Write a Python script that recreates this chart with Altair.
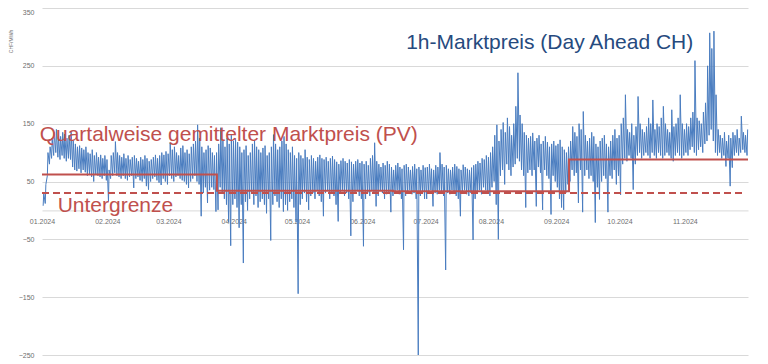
import altair as alt
import pandas as pd
from datetime import datetime, timedelta

# Daily high / low of the hourly day-ahead price (CHF/MWh)
hi_jan = [30, 45, 100, 110, 125, 135, 140, 130, 128, 135, 132, 125, 130, 137, 120, 115, 110, 112, 108, 105, 110, 100, 98, 105, 95, 100, 92, 96, 90, 95, 88]
lo_jan = [8, 12, 60, 80, 90, 95, 100, 92, 88, 95, 90, 85, 90, 88, 75, 70, 68, 72, 65, 70, 66, 60, 62, 58, 50, 62, 60, 58, 55, 60, 52]
hi_feb = [70, 95, 100, 119, 100, 95, 92, 98, 90, 95, 88, 92, 95, 90, 85, 92, 88, 95, 90, 85, 88, 92, 96, 90, 95, 100, 96, 102, 98]
lo_feb = [15, 55, 60, 65, 60, 58, 55, 60, 55, 52, 58, 60, 39, 55, 58, 52, 50, 55, 42, 36, 50, 55, 58, 52, 48, 44, 55, 50, 45]
hi_mar = [117, 105, 110, 100, 95, 108, 112, 100, 105, 98, 110, 115, 120, 148, 125, 110, 100, 105, 112, 108, 100, 95, 100, 115, 143, 120, 110, 125, 115, 130, 120]
lo_mar = [60, 55, 50, 58, 60, 55, 52, 50, 45, 39, 50, 55, 60, 50, 45, -10, 30, 40, 13, 35, 40, 36, -2, 1, 40, 30, 20, 10, -20, -61, 10]
hi_apr = [125, 118, 110, 100, 105, 112, 95, 100, 115, 122, 110, 105, 100, 108, 112, 95, 100, 110, 131, 115, 105, 110, 120, 128, 115, 105, 100, 110, 95, 90]
lo_apr = [20, 5, -30, 10, -91, 15, 0, 20, 30, 10, 25, 5, 15, 20, 10, -5, 20, -52, 10, 25, 15, 5, 20, -2, 10, 0, 15, 20, 5, -20]
hi_may = [100, 95, 90, 105, 92, 88, 95, 90, 85, 92, 96, 90, 88, 92, 85, 90, 94, 88, 84, 80, 86, 90, 85, 82, 88, 84, 80, 85, 88, 82, 85]
lo_may = [-144, 10, 20, 30, 15, 1, 25, 30, 20, 35, 25, 15, -10, 30, 35, 20, 30, 25, 10, -19, 30, 35, 25, 30, 20, -44, 15, 30, 35, 25, 20]
hi_jun = [80, 85, 78, 90, 95, 117, 85, 80, 75, 82, 78, 85, 80, 75, 70, 78, 82, 75, 72, 78, 80, 75, 70, 76, 80, 72, 75, 70, 78, 74]
lo_jun = [-62, 20, 30, 25, 35, 30, 7, 25, 35, 30, 20, 28, 30, -3, 25, 30, 35, 28, 20, -68, 25, 30, 35, 28, 30, 20, -250, 25, 30, 20]
hi_jul = [75, 80, 72, 70, 78, 75, 100, 80, 75, 78, 72, 70, 75, 80, 76, 72, 70, 79, 75, 72, 70, 74, 78, 80, 85, 82, 90, 88, 95, 92, 100]
lo_jul = [20, 30, 35, 7, 30, 28, 35, 30, 25, -103, 30, 28, 35, 30, 25, 20, -10, 30, 35, 28, 25, 30, -51, 20, 30, 35, 28, 40, 35, 30, 25]
hi_aug = [110, 130, 148, 120, 140, 152, 135, 160, 145, 130, 150, 180, 238, 165, 150, 135, 130, 125, 128, 134, 120, 125, 130, 115, 120, 128, 118, 110, 115, 120, 112]
lo_aug = [40, 50, 10, -50, 60, 70, 45, 80, 70, 60, 75, 80, 90, 85, 70, 60, 5, 65, 70, 60, 70, 7, 75, 65, 1, 70, 60, 55, -7, 60, 50]
hi_sep = [115, 122, 110, 105, 100, 110, 120, 145, 135, 128, 150, 140, 171, 130, 120, 125, 135, 128, 115, 110, 120, 125, 130, 115, 110, 120, 130, 140, 125, 130]
lo_sep = [40, 20, 5, 1, 30, 45, 50, 70, 60, 65, 13, 70, -3, 60, 70, 55, 60, 50, -21, 40, 19, 50, 60, 55, -3, 60, 55, 70, 45, 60]
hi_oct = [150, 160, 200, 140, 135, 150, 130, 145, 197, 150, 140, 135, 145, 160, 150, 191, 140, 150, 145, 160, 180, 150, 140, 135, 174, 145, 150, 160, 200, 150, 140]
lo_oct = [27, 80, 90, 85, 95, 90, 36, 80, 95, 100, 90, 95, 100, 95, 90, 100, 95, 90, 100, 95, 90, 95, 100, 95, 90, 85, 95, 100, 95, 90, 95]
hi_nov = [150, 145, 160, 170, 259, 160, 155, 150, 170, 186, 250, 307, 280, 310, 200, 140, 130, 125, 135, 120, 130, 125, 135, 130, 140, 125, 163, 135, 130, 140]
lo_nov = [100, 95, 105, 110, 100, 95, 105, 110, 100, 115, 120, 130, 140, 120, 100, 95, 100, 90, 95, 76, 90, 42, 74, 95, 100, 95, 100, 105, 100, 95]

# Quarterly averaged market price (step line) and lower limit
q_dates = ["2024-01-01T00:00:00", "2024-03-24T00:00:00", "2024-06-15T14:00:00", "2024-09-07T02:00:00", "2024-12-01T00:00:00"]
q_vals = [62, 34, 33, 88, 88]
floor_dates = ["2024-01-01T00:00:00", "2024-11-28T12:00:00"]
floor_vals = [30, 30]

# Annotations
label_text = ["1h-Marktpreis (Day Ahead CH)", "Quartalweise gemittelter Marktpreis (PV)", "Untergrenze"]
label_t = ["2024-06-21T19:00:00", "2023-12-30T21:00:00", "2024-01-08T10:00:00"]
label_p = [279, 119.4, -3.5]
label_color = ["#264A7E", "#C0504D", "#C0504D"]

y_ticks = [-250, -150, -50, 50, 150, 250, 350]

his = [hi_jan, hi_feb, hi_mar, hi_apr, hi_may, hi_jun, hi_jul, hi_aug, hi_sep, hi_oct, hi_nov]
los = [lo_jan, lo_feb, lo_mar, lo_apr, lo_may, lo_jun, lo_jul, lo_aug, lo_sep, lo_oct, lo_nov]
rows = []
for m, (h, l) in enumerate(zip(his, los), start=1):
    for i, (hv, lv) in enumerate(zip(h, l)):
        day = datetime(2024, m, 1) + timedelta(days=i)
        rows.append({"t": (day + timedelta(hours=13)).strftime("%Y-%m-%dT%H:%M:%S"), "p": lv})
        rows.append({"t": (day + timedelta(hours=20)).strftime("%Y-%m-%dT%H:%M:%S"), "p": hv})
df = pd.DataFrame(rows)
dq = pd.DataFrame({"t": q_dates, "p": q_vals})
dfl = pd.DataFrame({"t": floor_dates, "p": floor_vals})
dlab = pd.DataFrame({"t": label_t, "p": label_p, "txt": label_text, "c": label_color})

FONT = "Liberation Sans"
W, H = 706, 347
zero_px = H * 350 / 600

xscale = alt.Scale(domain=[alt.DateTime(year=2024, month=1, date=1), alt.DateTime(year=2024, month=12, date=1)])
yscale = alt.Scale(domain=[-250, 350], nice=False, zero=False)

x_axis = alt.Axis(
    title=None, format="%m.%Y",
    values=[alt.DateTime(year=2024, month=m, date=1) for m in range(1, 12)],
    labelFlush=False, labelOverlap=False, grid=False, ticks=False,
    domain=True, domainColor="#D9D9D9", domainWidth=1,
    offset=-(H - zero_px), labelPadding=7, labelFontSize=7,
    labelColor="#6E6E6E", labelFont=FONT,
)
y_axis = alt.Axis(
    title="CHF/MWh", values=y_ticks, grid=True, gridColor="#D9D9D9", gridWidth=1,
    domain=False, ticks=False, labelPadding=8, labelFontSize=7, labelColor="#6E6E6E",
    labelBaseline={"condition": {"test": "datum.value == 350", "value": "top"}, "value": "middle"},
    labelFont=FONT, titleFont=FONT, titleFontSize=5, titleFontWeight="normal",
    titleColor="#6E6E6E", titleX=-32, titleY=33, titleAngle=270,
    titleAlign="center", titleBaseline="middle",
)

x = alt.X("t:T", scale=xscale, axis=x_axis)
y = alt.Y("p:Q", scale=yscale, axis=y_axis)

price = alt.Chart(df).mark_line(color="#4A7DC0", strokeWidth=1).encode(x=x, y=y)
quarter = alt.Chart(dq).mark_line(color="#C0504D", strokeWidth=2, interpolate="step-after").encode(
    x=alt.X("t:T", scale=xscale), y=alt.Y("p:Q", scale=yscale))
floor = alt.Chart(dfl).mark_line(color="#C0504D", strokeWidth=2, strokeDash=[7, 4]).encode(
    x=alt.X("t:T", scale=xscale), y=alt.Y("p:Q", scale=yscale))
labels = alt.Chart(dlab).mark_text(align="left", baseline="alphabetic", fontSize=21, font=FONT).encode(
    x=alt.X("t:T", scale=xscale), y=alt.Y("p:Q", scale=yscale),
    text="txt:N", color=alt.Color("c:N", scale=None))

chart = alt.layer(price, quarter, floor, labels).properties(
    width=W, height=H,
    padding={"left": 34, "top": 0, "right": 12, "bottom": 9},
    autosize=alt.AutoSizeParams(type="none"),
    background="white",
).configure_view(stroke=None)

chart.save("out.html", embed_options={"renderer": "svg", "actions": False})
